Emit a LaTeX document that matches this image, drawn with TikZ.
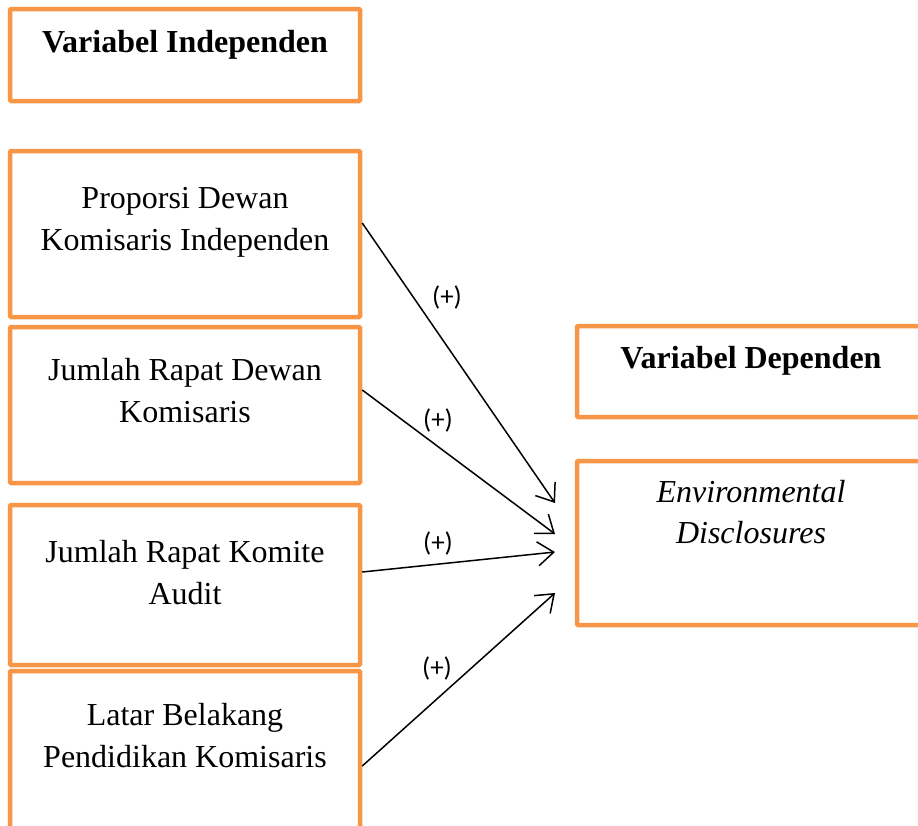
\documentclass[tikz,border=0pt]{standalone}
\usepackage{fontspec}
\setmainfont{Liberation Serif}
\newfontfamily\labfont{Carlito}
\usetikzlibrary{arrows.meta}
\definecolor{boxorange}{HTML}{F79646}
\tikzset{
  vbox/.style={draw=boxorange, line width=4.5pt, rounded corners=1pt, rectangle, minimum width=350pt, inner sep=0pt},
  btext/.style={anchor=base, font=\fontsize{32}{40}\selectfont, inner sep=0pt},
  plus/.style={font=\labfont\fontsize{27}{30}\selectfont, inner sep=0pt},
  conn/.style={line width=1.5pt, -{Straight Barb[length=16pt,width=24pt,line width=1.5pt]}}
}
\begin{document}
\begin{tikzpicture}[x=1pt,y=-1pt]
\clip (0,0) rectangle (918,825);
\fill[white] (0,0) rectangle (918,825);
% left boxes
\node[vbox, minimum height=92pt] (vi) at (185,55) {};
\node[vbox, minimum height=166pt] (b1) at (185,234) {};
\node[vbox, minimum height=156pt] (b2) at (185,405) {};
\node[vbox, minimum height=160pt] (b3) at (185,585) {};
\node[vbox, minimum height=164pt] (b4) at (185,753) {};
% right boxes
\node[vbox, minimum width=348pt, minimum height=91pt] (vd) at (751,371.5) {};
\node[vbox, minimum width=348pt, minimum height=164pt] (env) at (751,543) {};
% texts
\node[btext, font=\fontsize{32}{40}\selectfont\bfseries] (tvi) at (185,52) {Variabel Independen};
\node[btext] (t1a) at (185,208) {Proporsi Dewan};
\node[btext] (t1b) at (185,250) {Komisaris Independen};
\node[btext] (t2a) at (185,380) {Jumlah Rapat Dewan};
\node[btext] (t2b) at (185,422) {Komisaris};
\node[btext] (t3a) at (185,562) {Jumlah Rapat Komite};
\node[btext] (t3b) at (185,604) {Audit};
\node[btext] (t4a) at (185,725) {Latar Belakang};
\node[btext] (t4b) at (185,767) {Pendidikan Komisaris};
\node[btext, font=\fontsize{32}{40}\selectfont\bfseries] (tvd) at (751,368) {Variabel Dependen};
\node[btext, font=\fontsize{32}{40}\selectfont\itshape] (tea) at (751,502) {Environmental};
\node[btext, font=\fontsize{32}{40}\selectfont\itshape] (teb) at (751,543) {Disclosures};
% connector endpoints
\coordinate (s1) at (b1.east |- 0,223);
\coordinate (s2) at (b2.east |- 0,390);
\coordinate (s3) at (b3.east |- 0,572);
\coordinate (s4) at (b4.east |- 0,766);
\coordinate (e1) at (555,503);
\coordinate (e2) at (555,534);
\coordinate (e3) at (555,552);
\coordinate (e4) at (555,593);
\draw[conn] (s1) -- (e1);
\draw[conn] (s2) -- (e2);
\draw[conn] (s3) -- (e3);
\draw[conn] (s4) -- (e4);
% labels
\node[plus] (l1) at (447,297) {(+)};
\node[plus] (l2) at (438,420) {(+)};
\node[plus] (l3) at (438,543) {(+)};
\node[plus] (l4) at (437,668) {(+)};
\end{tikzpicture}
\end{document}
